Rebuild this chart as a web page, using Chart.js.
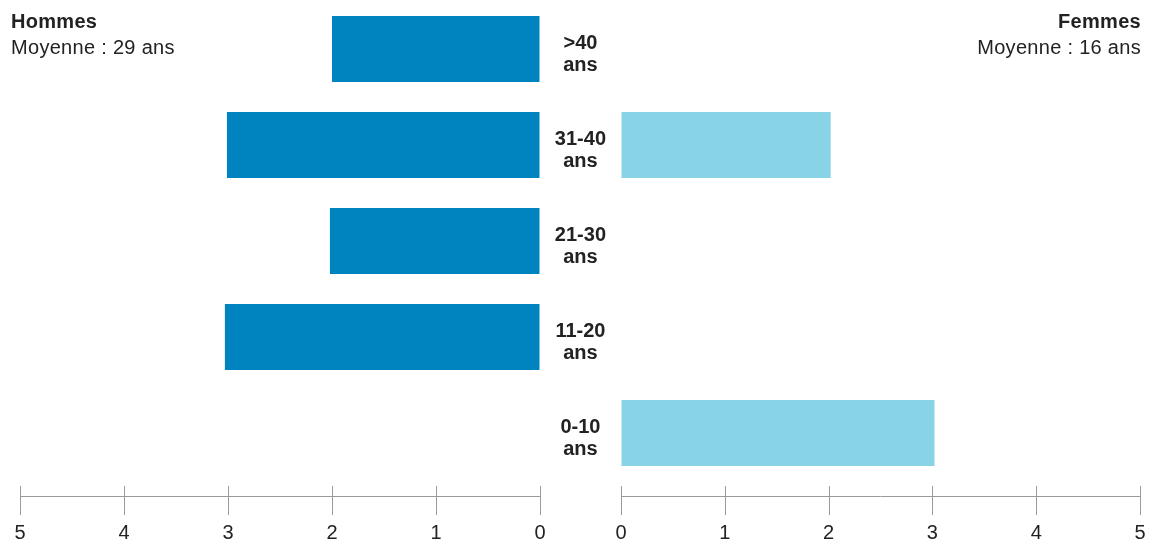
<!DOCTYPE html>
<html>
<head>
<meta charset="utf-8">
<script src="https://cdn.jsdelivr.net/npm/chart.js@4"></script>
<style>
  html, body { margin: 0; padding: 0; background: #fff; overflow: hidden; }
  body { width: 1149px; height: 542px; position: relative; font-family: "Liberation Sans", Arial, sans-serif; color: #222; }
  canvas { position: absolute; top: 0; }
  #grafikHommes { left: 0; }
  #grafikFemmes { left: 540px; }
  .titre { position: absolute; top: 8px; font-size: 20px; line-height: 26px; letter-spacing: 0.3px; z-index: 2; }
  .titre b { font-weight: bold; }
  #titreHommes { left: 11px; text-align: left; }
  #titreFemmes { right: 8px; text-align: right; }
</style>
</head>
<body>
<div class="titre" id="titreHommes"><b>Hommes</b><br>Moyenne : 29 ans</div>
<div class="titre" id="titreFemmes"><b>Femmes</b><br>Moyenne : 16 ans</div>
<canvas id="grafikHommes" width="570" height="560"></canvas>
<canvas id="grafikFemmes" width="609" height="560"></canvas>
<script>
const categories = [[">40", "ans"], ["31-40", "ans"], ["21-30", "ans"], ["11-20", "ans"], ["0-10", "ans"]];
const hommes = [2, 3.01, 2.02, 3.03, 0];
const femmes = [0, 2.02, 0, 0, 3.02];
const axisTicks = [0, 1, 2, 3, 4, 5];

const fontBase = "'Liberation Sans', Arial, sans-serif";

// garis sumbu x dengan tanda tick yang memotong garis
const axisLine = {
  id: "axisLine",
  afterDraw(chart) {
    const c = chart.ctx;
    const sx = chart.scales.x;
    const y0 = chart.chartArea.bottom;
    c.save();
    c.strokeStyle = "#9a9a9a";
    c.lineWidth = 1;
    c.beginPath();
    c.moveTo(sx.getPixelForValue(0), y0 + 15.5);
    c.lineTo(sx.getPixelForValue(5), y0 + 15.5);
    axisTicks.forEach((v) => {
      const px = Math.round(sx.getPixelForValue(v)) + 0.5;
      c.moveTo(px, y0 + 5);
      c.lineTo(px, y0 + 34);
    });
    c.stroke();
    c.restore();
  },
};

function xScale(reverse) {
  return {
    type: "linear",
    min: 0,
    max: 5,
    reverse: reverse,
    grid: {
      display: true,
      drawOnChartArea: false,
      drawTicks: true,
      tickLength: 40,
      color: "rgba(0,0,0,0)",
    },
    border: { display: false },
    ticks: {
      stepSize: 1,
      padding: 0,
      color: "#222",
      font: { family: fontBase, size: 20 },
    },
  };
}

new Chart(document.getElementById("grafikHommes").getContext("2d"), {
  type: "bar",
  data: {
    labels: categories,
    datasets: [
      {
        label: "Hommes",
        data: hommes,
        backgroundColor: "#0084bf",
        barPercentage: 0.6875,
        categoryPercentage: 1,
      },
    ],
  },
  plugins: [axisLine],
  options: {
    indexAxis: "y",
    responsive: false,
    animation: false,
    layout: { padding: { left: 20, right: 30, top: 1, bottom: 15 } },
    plugins: { legend: { display: false }, tooltip: { enabled: false } },
    scales: {
      x: xScale(true),
      y: { display: false },
    },
  },
});

new Chart(document.getElementById("grafikFemmes").getContext("2d"), {
  type: "bar",
  data: {
    labels: categories,
    datasets: [
      {
        label: "Femmes",
        data: femmes,
        backgroundColor: "#88d3e6",
        barPercentage: 0.6875,
        categoryPercentage: 1,
      },
    ],
  },
  plugins: [axisLine],
  options: {
    indexAxis: "y",
    responsive: false,
    animation: false,
    layout: { padding: { left: 0, right: 9, top: 1, bottom: 15 } },
    plugins: { legend: { display: false }, tooltip: { enabled: false } },
    scales: {
      x: xScale(false),
      y: {
        position: "left",
        grid: { display: false, drawTicks: false },
        border: { display: false },
        afterFit(scale) {
          scale.width = 81;
          scale.paddingTop = 0;
          scale.paddingBottom = 0;
        },
        ticks: {
          crossAlign: "center",
          padding: 15,
          labelOffset: 5,
          color: "#222",
          font: { family: fontBase, size: 20, weight: "bold", lineHeight: 1.1 },
        },
      },
    },
  },
});
</script>
</body>
</html>
